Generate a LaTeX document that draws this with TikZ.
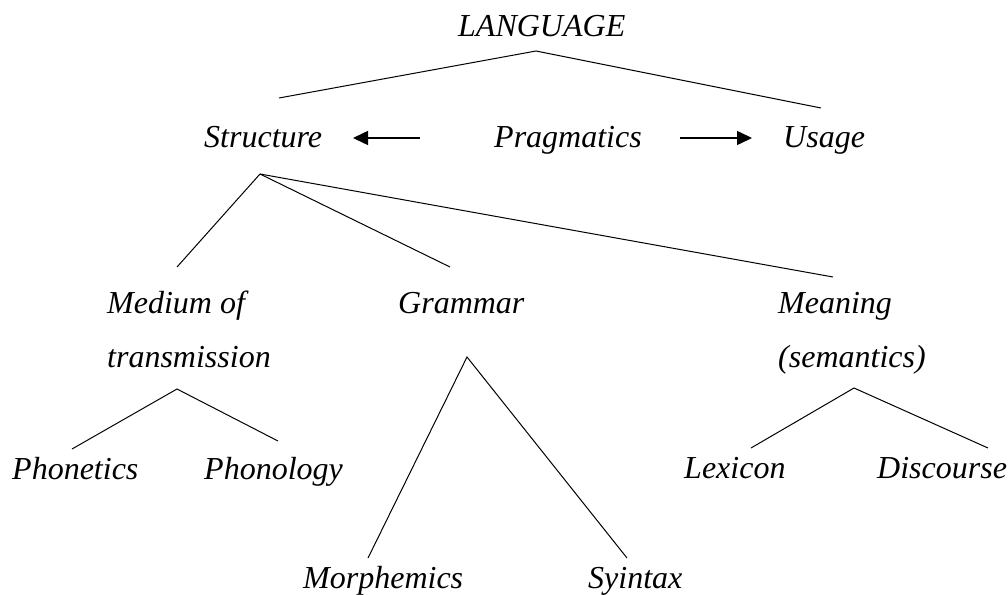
\documentclass[tikz,border=0pt]{standalone}
\usepackage{fontspec}
\setmainfont{Liberation Serif}
\usetikzlibrary{arrows.meta}
\tikzset{
  word/.style={inner sep=0pt, anchor=base west, align=left,
    font=\fontsize{32}{54}\selectfont\itshape},
  branch/.style={line width=1pt},
  pointer/.style={line width=1.5pt, -{Triangle[length=15pt,width=14pt]}}
}
\begin{document}
\begin{tikzpicture}[x=1pt,y=-1pt]
\useasboundingbox (0,0) rectangle (1008,594);

\node[word] (language) at (458,37) {LANGUAGE};
\node[word] (structure) at (204,147) {Structure};
\node[word] (pragmatics) at (494,147) {Pragmatics};
\node[word] (usage) at (783,147) {Usage};

\coordinate (lang-top) at (536,51);
\coordinate (lang-l) at (279,98);
\coordinate (lang-r) at (821,108);
\draw[branch] (lang-l) -- (lang-top) -- (lang-r);

\coordinate (prag-l) at (420,138);
\coordinate (prag-r) at (680,138);
\coordinate (struct-tip) at (353,138);
\coordinate (usage-tip) at (752,138);
\draw[pointer] (prag-l) -- (struct-tip);
\draw[pointer] (prag-r) -- (usage-tip);

\node[word] (medium) at (107,367) {Medium of\\transmission};
\node[word] (grammar) at (398,313) {Grammar};
\node[word] (meaning) at (778,367) {Meaning\\(semantics)};

\coordinate (struct-top) at (260,174);
\coordinate (medium-up) at (177,267);
\coordinate (grammar-up) at (450,267);
\coordinate (meaning-up) at (833,277);
\draw[branch] (struct-top) -- (medium-up);
\draw[branch] (struct-top) -- (grammar-up);
\draw[branch] (struct-top) -- (meaning-up);

\node[word] (phonetics) at (12,479) {Phonetics};
\node[word] (phonology) at (204,479) {Phonology};
\node[word] (lexicon) at (684,478) {Lexicon};
\node[word] (discourse) at (877,478) {Discourse};
\node[word] (morphemics) at (303,588) {Morphemics};
\node[word] (syntax) at (588,588) {Syintax};

\coordinate (medium-top) at (177,389);
\coordinate (phonetics-up) at (72,449);
\coordinate (phonology-up) at (278,441);
\draw[branch] (phonetics-up) -- (medium-top) -- (phonology-up);

\coordinate (grammar-top) at (467,357);
\coordinate (morph-up) at (368,558);
\coordinate (syntax-up) at (627,558);
\draw[branch] (morph-up) -- (grammar-top) -- (syntax-up);

\coordinate (meaning-top) at (854,388);
\coordinate (lexicon-up) at (751,448);
\coordinate (discourse-up) at (988,448);
\draw[branch] (lexicon-up) -- (meaning-top) -- (discourse-up);

\end{tikzpicture}
\end{document}
